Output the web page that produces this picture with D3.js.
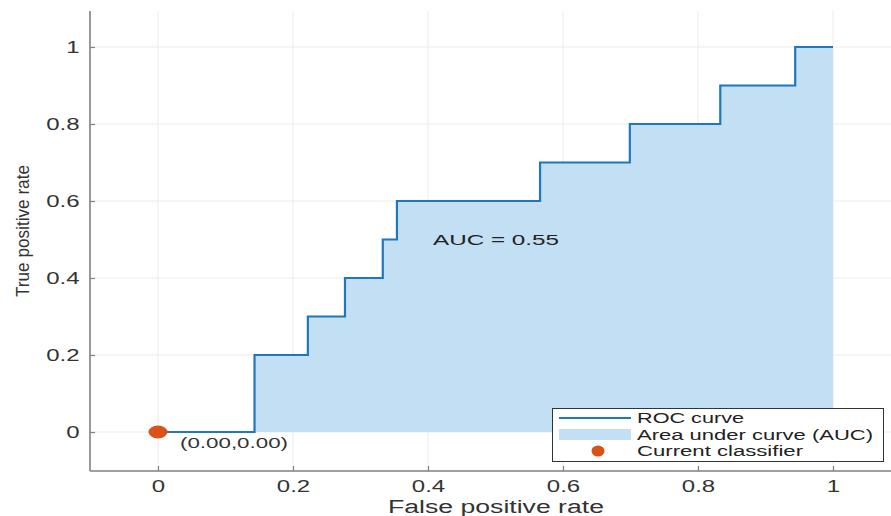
<!DOCTYPE html>
<html>
<head>
<meta charset="utf-8">
<script src="https://cdn.jsdelivr.net/npm/d3@7"></script>
<style>
  html, body { margin: 0; padding: 0; background: #fff; }
  svg { display: block; font-family: "Liberation Sans", Arial, sans-serif; }
</style>
</head>
<body>
<svg id="chart" width="891" height="516"></svg>
<script>
// ---- data ----
const fprSteps = [0, 0.143, 0.222, 0.277, 0.333, 0.354, 0.566, 0.699, 0.833, 0.944, 1.0];
const tprSteps = [0, 0.2, 0.3, 0.4, 0.5, 0.6, 0.7, 0.8, 0.9, 1.0, 1.0];
const xTicks = [0, 0.2, 0.4, 0.6, 0.8, 1];
const yTicks = [0, 0.2, 0.4, 0.6, 0.8, 1];
const xTickLabels = ["0", "0.2", "0.4", "0.6", "0.8", "1"];
const yTickLabels = ["0", "0.2", "0.4", "0.6", "0.8", "1"];
const currentPoint = [0, 0];
const aucValue = 0.55;
const legendLabels = ["ROC curve", "Area under curve (AUC)", "Current classifier"];

// ---- layout ----
const frame = { left: 90, right: 891, top: 11, bottom: 471 };
const SX = 1.5; // horizontal glyph stretch of the reference

const svg = d3.select("#chart");
const x = d3.scaleLinear().domain([0, 1]).range([158, 833]);
const y = d3.scaleLinear().domain([0, 1]).range([432, 47]);

const pts = fprSteps.map((f, i) => [f, tprSteps[i]]);

function stretch(sel, factor) {
  sel.each(function () {
    const w = this.getComputedTextLength();
    d3.select(this).attr("textLength", w * factor).attr("lengthAdjust", "spacingAndGlyphs");
  });
}

// grid
const grid = svg.append("g").attr("stroke", "#ebebeb").attr("stroke-width", 1);
grid.selectAll("line.vx").data(xTicks).join("line")
  .attr("x1", d => x(d)).attr("x2", d => x(d))
  .attr("y1", frame.top).attr("y2", frame.bottom);
grid.selectAll("line.hy").data(yTicks).join("line")
  .attr("x1", frame.left).attr("x2", frame.right)
  .attr("y1", d => y(d)).attr("y2", d => y(d));

// area
const area = d3.area().curve(d3.curveStepAfter)
  .x(d => x(d[0])).y0(y(0)).y1(d => y(d[1]));
svg.append("path").datum(pts).attr("d", area).attr("fill", "#c2dff3");

// line
const line = d3.line().curve(d3.curveStepAfter)
  .x(d => x(d[0])).y(d => y(d[1]));
svg.append("path").datum(pts).attr("d", line)
  .attr("fill", "none").attr("stroke", "#1f77c0").attr("stroke-width", 2.2);

// axes
const xAxis = svg.append("g").attr("transform", `translate(0,${frame.bottom})`)
  .call(d3.axisBottom(x).tickValues(xTicks).tickFormat((d, i) => xTickLabels[i])
    .tickSizeInner(-5).tickSizeOuter(0).tickPadding(10));
const yAxis = svg.append("g").attr("transform", `translate(${frame.left},0)`)
  .call(d3.axisLeft(y).tickValues(yTicks).tickFormat((d, i) => yTickLabels[i])
    .tickSizeInner(-5).tickSizeOuter(0).tickPadding(10.5));
[xAxis, yAxis].forEach(a => {
  a.select(".domain").remove();
  a.selectAll(".tick line").attr("stroke", "#808080").attr("stroke-width", 1.2);
  a.selectAll(".tick text").attr("fill", "#333").style("font-size", "16px")
    .style("font-family", '"Liberation Sans", Arial, sans-serif');
  stretch(a.selectAll(".tick text"), SX);
});
svg.append("line").attr("x1", frame.left).attr("x2", frame.left)
  .attr("y1", frame.top).attr("y2", frame.bottom)
  .attr("stroke", "#808080").attr("stroke-width", 1.6);
svg.append("line").attr("x1", frame.left).attr("x2", frame.right)
  .attr("y1", frame.bottom).attr("y2", frame.bottom)
  .attr("stroke", "#808080").attr("stroke-width", 1.6);

// axis labels
svg.append("text").attr("x", 496).attr("y", 513).attr("text-anchor", "middle")
  .attr("fill", "#333").style("font-size", "18px")
  .attr("textLength", 216).attr("lengthAdjust", "spacingAndGlyphs")
  .text("False positive rate");
svg.append("text").attr("transform", "translate(29,231) rotate(-90)")
  .attr("text-anchor", "middle").attr("fill", "#333").style("font-size", "19px")
  .attr("textLength", 132).attr("lengthAdjust", "spacingAndGlyphs")
  .text("True positive rate");

// current classifier point
svg.append("ellipse").attr("cx", x(currentPoint[0])).attr("cy", y(currentPoint[1]))
  .attr("rx", 9.5).attr("ry", 6.5).attr("fill", "#d95319");
svg.append("text").attr("x", 180).attr("y", 448).attr("fill", "#333")
  .style("font-size", "15px")
  .attr("textLength", 108).attr("lengthAdjust", "spacingAndGlyphs")
  .text(`(${currentPoint[0].toFixed(2)},${currentPoint[1].toFixed(2)})`);

// AUC annotation
svg.append("text").attr("x", 433).attr("y", 245).attr("fill", "#222")
  .style("font-size", "15px")
  .attr("textLength", 126).attr("lengthAdjust", "spacingAndGlyphs")
  .text(`AUC = ${aucValue.toFixed(2)}`);

// legend
const lg = svg.append("g");
lg.append("rect").attr("x", 552.5).attr("y", 408.5).attr("width", 331).attr("height", 53)
  .attr("fill", "#fff").attr("stroke", "#333").attr("stroke-width", 1);
lg.append("line").attr("x1", 559).attr("x2", 631).attr("y1", 418).attr("y2", 418)
  .attr("stroke", "#1f77c0").attr("stroke-width", 2.2);
lg.append("rect").attr("x", 559).attr("y", 429).attr("width", 72).attr("height", 11)
  .attr("fill", "#c2dff3");
lg.append("ellipse").attr("cx", 598).attr("cy", 451).attr("rx", 6.5).attr("ry", 5.5)
  .attr("fill", "#d95319");
const legendY = [423, 440, 456];
const legendW = [107, 236, 166];
lg.selectAll("text.lt").data(legendLabels).join("text")
  .attr("x", 637).attr("y", (d, i) => legendY[i]).attr("fill", "#222")
  .style("font-size", "14px")
  .attr("textLength", (d, i) => legendW[i]).attr("lengthAdjust", "spacingAndGlyphs")
  .text(d => d);
</script>
</body>
</html>
